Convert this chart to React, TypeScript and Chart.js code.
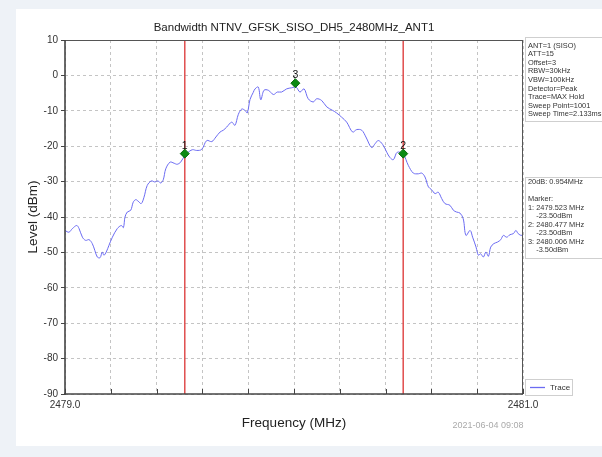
import React, { useEffect, useRef } from "react";
import { Chart, registerables } from "chart.js";

Chart.register(...registerables);

const titleText = "Bandwidth NTNV_GFSK_SISO_DH5_2480MHz_ANT1";
const xTitle = "Frequency (MHz)";
const yTitle = "Level (dBm)";
const dateText = "2021-06-04 09:08";

const xMin = 2479.0;
const xMax = 2481.0;
const xStep = 0.2;
const yMin = -90;
const yMax = 10;
const yStep = 10;

const freqMHz = [
  2479.0, 2479.017, 2479.032, 2479.051, 2479.061, 2479.076, 2479.09, 2479.105, 2479.119, 2479.13,
  2479.141, 2479.153, 2479.163, 2479.17, 2479.18, 2479.192, 2479.207, 2479.228, 2479.246, 2479.255,
  2479.262, 2479.272, 2479.287, 2479.298, 2479.309, 2479.319, 2479.333, 2479.345, 2479.359, 2479.377,
  2479.392, 2479.406, 2479.418, 2479.429, 2479.44, 2479.459, 2479.476, 2479.49, 2479.505, 2479.523,
  2479.534, 2479.556, 2479.575, 2479.597, 2479.619, 2479.641, 2479.659, 2479.677, 2479.691, 2479.706,
  2479.728, 2479.742, 2479.757, 2479.772, 2479.786, 2479.796, 2479.808, 2479.822, 2479.83, 2479.844,
  2479.855, 2479.869, 2479.888, 2479.91, 2479.927, 2479.946, 2479.968, 2479.99, 2480.009, 2480.026,
  2480.044, 2480.062, 2480.084, 2480.099, 2480.121, 2480.143, 2480.169, 2480.186, 2480.208, 2480.23,
  2480.256, 2480.274, 2480.296, 2480.314, 2480.339, 2480.354, 2480.368, 2480.387, 2480.405, 2480.419,
  2480.434, 2480.451, 2480.477, 2480.499, 2480.521, 2480.543, 2480.558, 2480.572, 2480.587, 2480.601,
  2480.616, 2480.63, 2480.645, 2480.659, 2480.681, 2480.696, 2480.71, 2480.725, 2480.739, 2480.751,
  2480.769, 2480.78, 2480.795, 2480.805, 2480.815, 2480.827, 2480.838, 2480.849, 2480.859, 2480.873,
  2480.888, 2480.903, 2480.914, 2480.929, 2480.943, 2480.958, 2480.969, 2480.979, 2480.994, 2481.0,
];

const levelDbm = [
  -43.8, -44.3, -43.3, -42.4, -43.2, -45.7, -46.6, -46.4, -47.5, -49.4,
  -51.3, -51.5, -49.9, -50.8, -49.9, -48.0, -45.7, -43.3, -42.4, -43.0,
  -40.0, -38.6, -38.1, -35.8, -35.1, -35.5, -36.2, -34.4, -31.1, -29.8,
  -30.1, -29.8, -30.4, -29.5, -26.4, -24.5, -24.8, -25.1, -24.5, -22.6,
  -21.9, -21.0, -21.2, -20.9, -18.4, -18.7, -17.4, -16.0, -15.5, -14.6,
  -13.2, -14.1, -11.0, -9.5, -9.9, -10.6, -6.8, -4.8, -3.8, -3.3,
  -6.9, -4.2, -4.2, -5.4, -4.7, -4.7, -3.8, -3.5, -3.3, -4.7,
  -3.8, -6.6, -7.5, -6.6, -7.1, -8.9, -9.9, -10.6, -11.8, -13.2,
  -16.0, -15.3, -15.5, -17.4, -20.4, -19.3, -18.4, -19.5, -21.7, -23.2,
  -23.8, -21.7, -22.3, -25.4, -27.6, -27.8, -27.6, -28.7, -31.5, -32.3,
  -33.4, -33.0, -34.8, -36.2, -36.7, -38.1, -38.6, -38.9, -40.5, -45.2,
  -43.8, -45.7, -48.5, -50.8, -50.4, -51.3, -49.9, -51.1, -48.5, -47.5,
  -47.1, -46.4, -45.2, -45.7, -45.0, -44.7, -43.8, -44.7, -45.2, -44.5,
];

const markerFreqs = [2479.523, 2480.477, 2480.006];
const markerLevels = [-22.1, -22.1, -2.2];
const markerLabels = ["1", "2", "3"];
const redLineFreqs = [2479.523, 2480.477];

const infoLines = [
  "ANT=1 (SISO)",
  "ATT=15",
  "Offset=3",
  "RBW=30kHz",
  "VBW=100kHz",
  "Detector=Peak",
  "Trace=MAX Hold",
  "Sweep Point=1001",
  "Sweep Time=2.133ms",
];

const resultLines = [
  "20dB: 0.954MHz",
  "",
  "Marker:",
  "1: 2479.523 MHz",
  "    -23.50dBm",
  "2: 2480.477 MHz",
  "    -23.50dBm",
  "3: 2480.006 MHz",
  "    -3.50dBm",
];

const legendLabel = "Trace";

const FONT = "'Liberation Sans', Arial, sans-serif";
const TRACE_COLOR = "#6b6bf2";

const overlayPlugin = {
  id: "overlay",
  afterDraw(chart: any) {
    const { ctx, chartArea: a, scales } = chart;
    const x = scales.x;
    const y = scales.y;
    ctx.save();
    const line = (x1: number, y1: number, x2: number, y2: number) => {
      ctx.beginPath();
      ctx.moveTo(x1, y1);
      ctx.lineTo(x2, y2);
      ctx.stroke();
    };
    // frame
    ctx.strokeStyle = "#555";
    ctx.lineWidth = 1;
    line(a.left, a.top + 0.5, a.right, a.top + 0.5);
    line(a.right - 0.5, a.top, a.right - 0.5, a.bottom);
    ctx.strokeStyle = "#444";
    ctx.lineWidth = 1.6;
    line(a.left, a.top, a.left, a.bottom + 1);
    line(a.left - 1, a.bottom, a.right, a.bottom);
    // x ticks (inward)
    ctx.lineWidth = 1;
    ctx.strokeStyle = "#444";
    x.ticks.forEach((t: any) => {
      const px = Math.round(x.getPixelForValue(t.value)) + 0.5;
      line(px, a.bottom, px, a.bottom - 5);
    });
    // title
    ctx.fillStyle = "#222";
    ctx.font = `11.5px ${FONT}`;
    ctx.textAlign = "center";
    ctx.textBaseline = "middle";
    ctx.fillText(titleText, (a.left + a.right) / 2, 28);
    // axis titles
    ctx.font = `13.5px ${FONT}`;
    ctx.fillStyle = "#222";
    ctx.fillText(xTitle, (a.left + a.right) / 2, 423);
    ctx.save();
    ctx.translate(33, (a.top + a.bottom) / 2);
    ctx.rotate(-Math.PI / 2);
    ctx.fillText(yTitle, 0, 0);
    ctx.restore();
    // date
    ctx.font = `9px ${FONT}`;
    ctx.fillStyle = "#aaa";
    ctx.fillText(dateText, 488, 426);
    // marker labels
    ctx.font = `10.5px ${FONT}`;
    ctx.fillStyle = "#111";
    ctx.textBaseline = "alphabetic";
    markerFreqs.forEach((f, i) => {
      const px = x.getPixelForValue(f);
      const py = y.getPixelForValue(markerLevels[i]);
      ctx.fillText(markerLabels[i], px, py - 5);
    });
    // right panel boxes
    const bx = a.right + 2;
    ctx.strokeStyle = "#cfcfcf";
    ctx.lineWidth = 1;
    ctx.fillStyle = "#fff";
    ctx.fillRect(bx, 37, 80, 84);
    ctx.strokeRect(bx + 0.5, 37.5, 80, 84);
    ctx.fillRect(bx, 177, 80, 81);
    ctx.strokeRect(bx + 0.5, 177.5, 80, 81);
    ctx.font = `7.4px ${FONT}`;
    ctx.fillStyle = "#333";
    ctx.textAlign = "left";
    ctx.textBaseline = "middle";
    infoLines.forEach((s, i) => ctx.fillText(s, bx + 3, 45.5 + i * 8.6));
    resultLines.forEach((s, i) => ctx.fillText(s, bx + 3, 182 + i * 8.55));
    // legend
    ctx.fillStyle = "#fff";
    ctx.fillRect(bx, 379, 47, 16);
    ctx.strokeRect(bx + 0.5, 379.5, 47, 16);
    ctx.strokeStyle = TRACE_COLOR;
    ctx.lineWidth = 1.3;
    line(bx + 5, 387.5, bx + 20, 387.5);
    ctx.fillStyle = "#333";
    ctx.font = `8px ${FONT}`;
    ctx.fillText(legendLabel, bx + 25, 388);
    ctx.restore();
  },
};

export default function App() {
  const ref = useRef<HTMLCanvasElement | null>(null);
  useEffect(() => {
    if (!ref.current) return;
    const traceData = freqMHz.map((f, i) => ({ x: f, y: levelDbm[i] }));
    const redSets = redLineFreqs.map((f) => ({
      label: "m" + f,
      data: [
        { x: f, y: yMax },
        { x: f, y: yMin },
      ],
      borderColor: "#e04848",
      borderWidth: 0.8,
      pointRadius: 0,
      showLine: true,
      order: 2,
    }));
    const chart = new Chart(ref.current, {
      type: "scatter",
      data: {
        datasets: [
          {
            label: legendLabel,
            data: traceData,
            borderColor: TRACE_COLOR,
            borderWidth: 1,
            pointRadius: 0,
            showLine: true,
            tension: 0.35,
            order: 3,
          },
          ...redSets,
          {
            label: "markers",
            data: markerFreqs.map((f, i) => ({ x: f, y: markerLevels[i] })),
            pointStyle: "rectRot",
            pointRadius: 4.5,
            backgroundColor: "#0b8a12",
            borderColor: "#066b0c",
            borderWidth: 1,
            showLine: false,
            order: 1,
          },
        ] as any,
      },
      options: {
        animation: false,
        responsive: false,
        devicePixelRatio: 1,
        layout: { padding: { left: 25, right: 79, top: 40, bottom: 43 } },
        plugins: { legend: { display: false }, title: { display: false }, tooltip: { enabled: false } },
        scales: {
          x: {
            type: "linear",
            min: xMin,
            max: xMax,
            afterFit: (s: any) => {
              s.height = 20;
            },
            ticks: {
              stepSize: xStep,
              autoSkip: false,
              maxRotation: 0,
              padding: 5,
              color: "#333",
              font: { size: 10, family: FONT },
              callback: (v: any, i: number, ts: any[]) =>
                i === 0 || i === ts.length - 1 ? Number(v).toFixed(1) : "",
            },
            grid: { color: "#c4c4c4", drawTicks: false, lineWidth: 1 },
            border: { display: false, dash: [3, 3] },
          },
          y: {
            min: yMin,
            max: yMax,
            afterFit: (s: any) => {
              s.width = 40;
            },
            ticks: {
              stepSize: yStep,
              padding: 3,
              color: "#333",
              font: { size: 10, family: FONT },
            },
            grid: { color: "#c4c4c4", tickLength: 4, tickColor: "#444", lineWidth: 1 },
            border: { display: false, dash: [3, 3] },
          },
        },
      },
      plugins: [overlayPlugin],
    });
    return () => chart.destroy();
  }, []);
  return (
    <div style={{ position: "absolute", left: 0, top: 0, width: 602, height: 457, background: "#eef2f7" }}>
      <div style={{ position: "absolute", left: 16, top: 9, width: 586, height: 437, background: "#fff" }} />
      <canvas ref={ref} width={602} height={457} style={{ position: "absolute", left: 0, top: 0 }} />
    </div>
  );
}
